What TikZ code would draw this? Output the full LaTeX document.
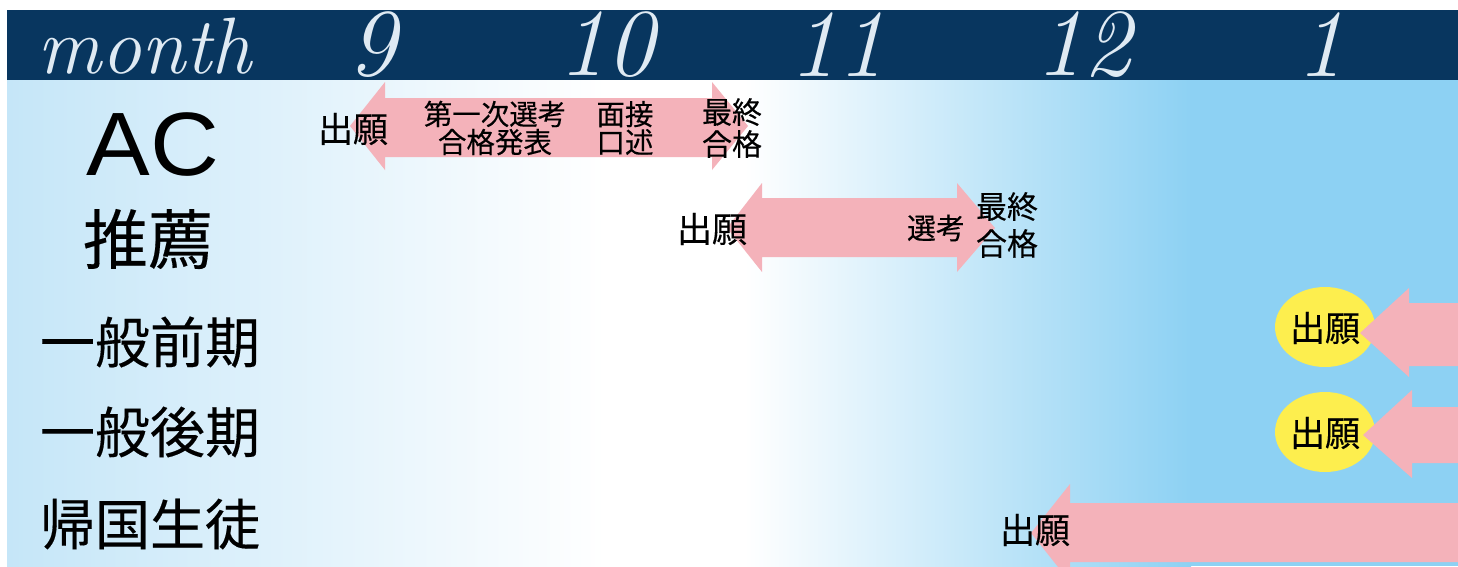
\documentclass[tikz,border=0pt]{standalone}
\usepackage{fontspec}
\newfontfamily\jp{Noto Sans CJK JP}
\newfontfamily\jpb[FakeBold=0.25]{Noto Sans CJK JP}
\newfontfamily\lat{Liberation Sans}
\definecolor{hdr}{HTML}{08365F}
\definecolor{hdrtxt}{HTML}{DFEAF3}
\definecolor{bgl}{HTML}{C5E6F8}
\definecolor{bgr}{HTML}{8DD1F3}
\definecolor{pinkc}{HTML}{F4B2BA}
\definecolor{yel}{HTML}{FDEE4E}
\tikzset{
  hdrlabel/.style={text=hdrtxt, inner sep=0pt, font=\fontsize{96}{96}\selectfont\itshape},
  rowlabel/.style={inner sep=0pt, font=\jpb\fontsize{55}{60}\selectfont},
  tag/.style={inner sep=0pt, align=center},
  arrowfill/.style={fill=pinkc, draw=none},
  bubble/.style={fill=yel, draw=none}
}
\begin{document}
\begin{tikzpicture}[x=1pt,y=-1pt]
\useasboundingbox (0,0) rectangle (1458,566);
% background
\fill[white] (0,0) rectangle (1458,566);
\shade[left color=bgl, right color=white] (7,80) rectangle (606,566);
\fill[white] (605,80) rectangle (746,566);
\shade[left color=white, right color=bgr] (745,80) rectangle (1191,566);
\fill[bgr] (1190,80) rectangle (1458,566);
% header
\fill[hdr] (7,10) rectangle (1458,80);
\node[hdrlabel, font=\fontsize{80}{80}\selectfont\itshape] (hm) at (144,46) {month};
\node[hdrlabel] (h9) at (372,45) {9};
\node[hdrlabel] (h10) at (606,45) {10};
\node[hdrlabel] (h11) at (837,45) {11};
\node[hdrlabel] (h12) at (1083,45) {12};
\node[hdrlabel] (h1) at (1320,45) {1};
% row labels
\node[inner sep=0pt, anchor=base, font=\lat\fontsize{90}{90}\selectfont, xscale=1.06] (lac) at (153,175) {AC};
\node[rowlabel, font=\jpb\fontsize{65}{65}\selectfont] (lsui) at (148,239) {推薦};
\node[rowlabel] (lzen) at (150,342) {一般前期};
\node[rowlabel] (lkou) at (150,432) {一般後期};
\node[rowlabel] (lkik) at (150,524) {帰国生徒};
% AC arrow
\fill[arrowfill] (350,126) -- (385,82) -- (385,98) -- (712,98) -- (712,82) -- (748,126)
  -- (712,170) -- (712,157) -- (385,157) -- (385,170) -- cycle;
% suisen arrow
\fill[arrowfill] (727,228) -- (762,183) -- (762,198) -- (957,198) -- (957,183) -- (995,228)
  -- (957,272) -- (957,257) -- (762,257) -- (762,272) -- cycle;
% ellipses
\fill[bubble] (1325,327) ellipse[x radius=50, y radius=40];
\fill[bubble] (1325,432) ellipse[x radius=50, y radius=40];
% right arrows
\fill[arrowfill] (1360,333) -- (1409,288) -- (1409,303) -- (1458,303) -- (1458,366) -- (1409,366) -- (1409,377) -- cycle;
\fill[arrowfill] (1363,435) -- (1412,390) -- (1412,407) -- (1458,407) -- (1458,463) -- (1412,463) -- (1412,478) -- cycle;
\fill[arrowfill] (1031,533) -- (1070,484) -- (1070,503) -- (1458,503) -- (1458,562) -- (1070,562) -- (1070,582) -- cycle;
% AC texts
\node[tag, font=\jpb\fontsize{35}{36}\selectfont] (acapp) at (353,129) {出願};
\node[tag, font=\jpb\fontsize{28.5}{28}\selectfont] (ac1) at (495,128) {第一次選考\\合格発表};
\node[tag, font=\jpb\fontsize{28.5}{28}\selectfont] (ac2) at (625,128) {面接\\口述};
\node[tag, font=\jpb\fontsize{30}{32}\selectfont] (ac3) at (732,128) {最終\\合格};
% suisen texts
\node[tag, font=\jpb\fontsize{35}{36}\selectfont] (suapp) at (712,229) {出願};
\node[tag, font=\jpb\fontsize{29}{30}\selectfont] (su1) at (936,228) {選考};
\node[tag, font=\jpb\fontsize{31}{37}\selectfont] (su2) at (1007,225) {最終\\合格};
% others
\node[tag, font=\jpb\fontsize{35}{36}\selectfont] (zapp) at (1325,328) {出願};
\node[tag, font=\jpb\fontsize{35}{36}\selectfont] (kapp) at (1325,433) {出願};
\node[tag, font=\jpb\fontsize{35}{36}\selectfont] (kiapp) at (1035,530) {出願};
\end{tikzpicture}
\end{document}
